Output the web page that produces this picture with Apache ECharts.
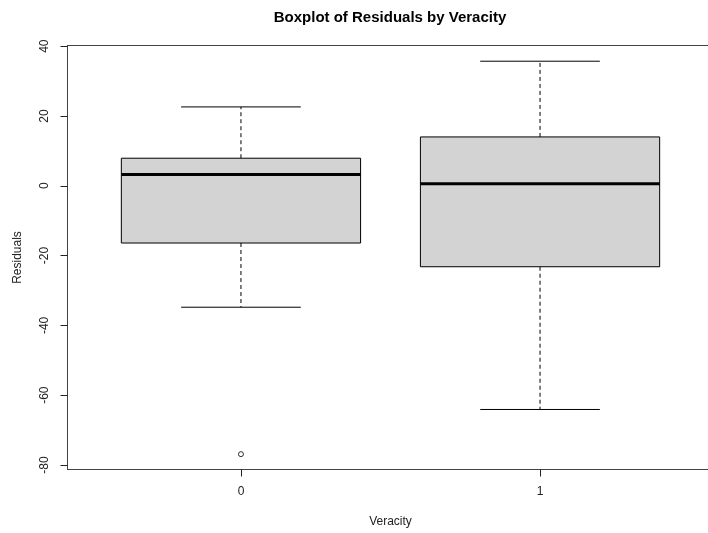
<!DOCTYPE html>
<html>
<head>
<meta charset="utf-8">
<script src="https://cdn.jsdelivr.net/npm/echarts@6/dist/echarts.min.js"></script>
<style>
  html, body { margin: 0; padding: 0; background: #fff; overflow: hidden; }
  #chart { width: 708px; height: 533px; }
</style>
</head>
<body>
<div id="chart"></div>
<script>
// Group labels and five-number summaries of the residuals
const categories = ['0', '1'];
const lowerWhisker = [-34.8, -64.1];
const q1 = [-16.4, -23.2];
const median = [3.2, 0.6];
const q3 = [7.9, 14.0];
const upperWhisker = [22.6, 35.7];
// Points beyond the whiskers: [group index, value]
const outliers = [[0, -76.9]];
// Tick values on the residual axis
const yTicks = [-80, -60, -40, -20, 0, 20, 40];

// groups sit at x = 1, 2 on a numeric axis
const xPos = categories.map((c, i) => i + 1);
const boxData = categories.map((c, i) => [xPos[i], lowerWhisker[i], q1[i], median[i], q3[i], upperWhisker[i]]);
const outlierData = outliers.map(o => [xPos[o[0]], o[1]]);

const BOX_HALF = 0.4;
const CAP_HALF = 0.2;
const X_MIN = 0.42, X_MAX = 2.58;

function renderBox(params, api) {
  const x = api.value(0);
  const lo = api.value(1), b1 = api.value(2), md = api.value(3), b3 = api.value(4), hi = api.value(5);
  const pLo = api.coord([x, lo]);
  const pHi = api.coord([x, hi]);
  const pQ1 = api.coord([x, b1]);
  const pQ3 = api.coord([x, b3]);
  const pMd = api.coord([x, md]);
  const left = api.coord([x - BOX_HALF, md])[0];
  const right = api.coord([x + BOX_HALF, md])[0];
  const capL = api.coord([x - CAP_HALF, md])[0];
  const capR = api.coord([x + CAP_HALF, md])[0];
  const cx = pMd[0];
  const dash = { stroke: '#000', lineWidth: 1, lineDash: [4, 3] };
  const solid = { stroke: '#000', lineWidth: 1 };
  return {
    type: 'group',
    children: [
      { type: 'line', shape: { x1: cx, y1: pQ3[1], x2: cx, y2: pHi[1] }, style: dash },
      { type: 'line', shape: { x1: cx, y1: pQ1[1], x2: cx, y2: pLo[1] }, style: dash },
      { type: 'line', shape: { x1: capL, y1: pHi[1], x2: capR, y2: pHi[1] }, style: solid },
      { type: 'line', shape: { x1: capL, y1: pLo[1], x2: capR, y2: pLo[1] }, style: solid },
      { type: 'rect', shape: { x: left, y: pQ3[1], width: right - left, height: pQ1[1] - pQ3[1] },
        style: { fill: '#d3d3d3', stroke: '#000', lineWidth: 1 } },
      { type: 'line', shape: { x1: left, y1: pMd[1], x2: right, y2: pMd[1] }, style: { stroke: '#000', lineWidth: 3 } }
    ]
  };
}

const chart = echarts.init(document.getElementById('chart'), null, { renderer: 'canvas' });
chart.setOption({
  animation: false,
  backgroundColor: '#fff',
  textStyle: { fontFamily: 'Liberation Sans, Arial, sans-serif' },
  graphic: [{
    type: 'text', x: 390, y: 18,
    style: { text: 'Boxplot of Residuals by Veracity', fill: '#000', font: 'bold 15px "Liberation Sans", Arial, sans-serif',
      textAlign: 'center', textVerticalAlign: 'middle' }
  }],
  grid: {
    left: 67.5, top: 45.5, width: 646, height: 424,
    outerBoundsMode: 'none', containLabel: false, show: false
  },
  xAxis: [{
    type: 'value', min: X_MIN, max: X_MAX,
    name: 'Veracity', nameLocation: 'middle', nameGap: 46,
    nameTextStyle: { color: '#222', fontSize: 12 },
    splitLine: { show: false },
    axisLine: { show: true, onZero: false, lineStyle: { color: '#444' } },
    axisTick: { show: true, length: 7, lineStyle: { color: '#222' }, customValues: xPos },
    axisLabel: { color: '#222', fontSize: 12, margin: 16, customValues: xPos,
      formatter: v => categories[Math.round(v) - 1] }
  }, {
    // top edge of the plot frame
    type: 'value', position: 'top', min: X_MIN, max: X_MAX,
    splitLine: { show: false }, axisTick: { show: false }, axisLabel: { show: false },
    axisLine: { show: true, onZero: false, lineStyle: { color: '#444' } }
  }],
  yAxis: {
    type: 'value', min: -81.3, max: 40.2,
    name: 'Residuals', nameLocation: 'middle', nameGap: 44, nameRotate: 90,
    nameTextStyle: { color: '#222', fontSize: 12 },
    splitLine: { show: false },
    axisLine: { show: true, onZero: false, lineStyle: { color: '#444' } },
    axisTick: { show: true, length: 7, lineStyle: { color: '#222' }, customValues: yTicks },
    axisLabel: { color: '#222', fontSize: 12, rotate: 90, margin: 17, customValues: yTicks }
  },
  series: [
    {
      type: 'custom', renderItem: renderBox, data: boxData,
      encode: { x: 0, y: [1, 2, 3, 4, 5] }, silent: true
    },
    {
      type: 'scatter', data: outlierData, symbol: 'circle', symbolSize: 5,
      itemStyle: { color: '#fff', borderColor: '#000', borderWidth: 1 }, silent: true
    }
  ]
});
</script>
</body>
</html>
